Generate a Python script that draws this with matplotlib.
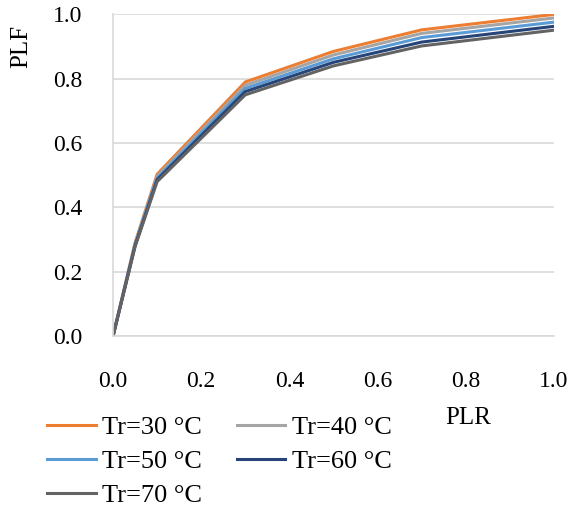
import matplotlib
matplotlib.use("Agg")
import matplotlib.pyplot as plt

plr = [0.0, 0.05, 0.1, 0.3, 0.5, 0.7, 1.0]
plf_30 = [0.0, 0.29, 0.503, 0.790, 0.885, 0.952, 1.000]
plf_40 = [0.0, 0.287, 0.497, 0.780, 0.874, 0.941, 0.989]
plf_50 = [0.0, 0.284, 0.491, 0.770, 0.862, 0.928, 0.976]
plf_60 = [0.0, 0.281, 0.486, 0.760, 0.851, 0.914, 0.963]
plf_70 = [0.0, 0.278, 0.480, 0.750, 0.840, 0.902, 0.951]
series_labels = ["Tr=30 °C", "Tr=40 °C", "Tr=50 °C", "Tr=60 °C", "Tr=70 °C"]
colors = ["#ED7D31", "#A5A5A5", "#5B9BD5", "#264478", "#636363"]
ticks = [0.0, 0.2, 0.4, 0.6, 0.8, 1.0]
tick_labels = ["0.0", "0.2", "0.4", "0.6", "0.8", "1.0"]

plt.rcParams["font.family"] = ["Liberation Serif", "DejaVu Serif"]

fig = plt.figure(figsize=(5.71, 5.08), dpi=100)
ax = fig.add_axes([0.198, 0.3386, 0.772, 0.633])

for ys, lab, c in zip([plf_30, plf_40, plf_50, plf_60, plf_70], series_labels, colors):
    ax.plot(plr, ys, color=c, lw=2.2, label=lab, solid_joinstyle="round")

ax.set_xlim(0, 1)
ax.set_ylim(0, 1)
ax.set_xticks(ticks)
ax.set_xticklabels(tick_labels)
ax.set_yticks(ticks)
ax.set_yticklabels(tick_labels)
ax.tick_params(length=0, labelsize=17)
ax.tick_params(axis="x", pad=25)
ax.tick_params(axis="y", pad=22)
ax.grid(axis="y", color="#D9D9D9", lw=1.2)
ax.set_axisbelow(True)
for s in ["top", "right"]:
    ax.spines[s].set_visible(False)
for s in ["left", "bottom"]:
    ax.spines[s].set_color("#D9D9D9")
    ax.spines[s].set_linewidth(1.2)

fig.text(0.037, 0.908, "PLF", rotation=90, fontsize=18, ha="center", va="center")
fig.text(0.82, 0.177, "PLR", fontsize=18, ha="center", va="center")

# legend filled row by row: 30, 40 / 50, 60 / 70
handles, labels = ax.get_legend_handles_labels()
order = [0, 2, 4, 1, 3]
fig.legend([handles[i] for i in order], [labels[i] for i in order], ncol=2,
           loc="upper left", bbox_to_anchor=(0.082, 0.182),
           frameon=False, fontsize=19, handlelength=1.85, handletextpad=0.25,
           columnspacing=1.3, labelspacing=0.4, borderaxespad=0, borderpad=0)

fig.savefig("out.png", dpi=100)
